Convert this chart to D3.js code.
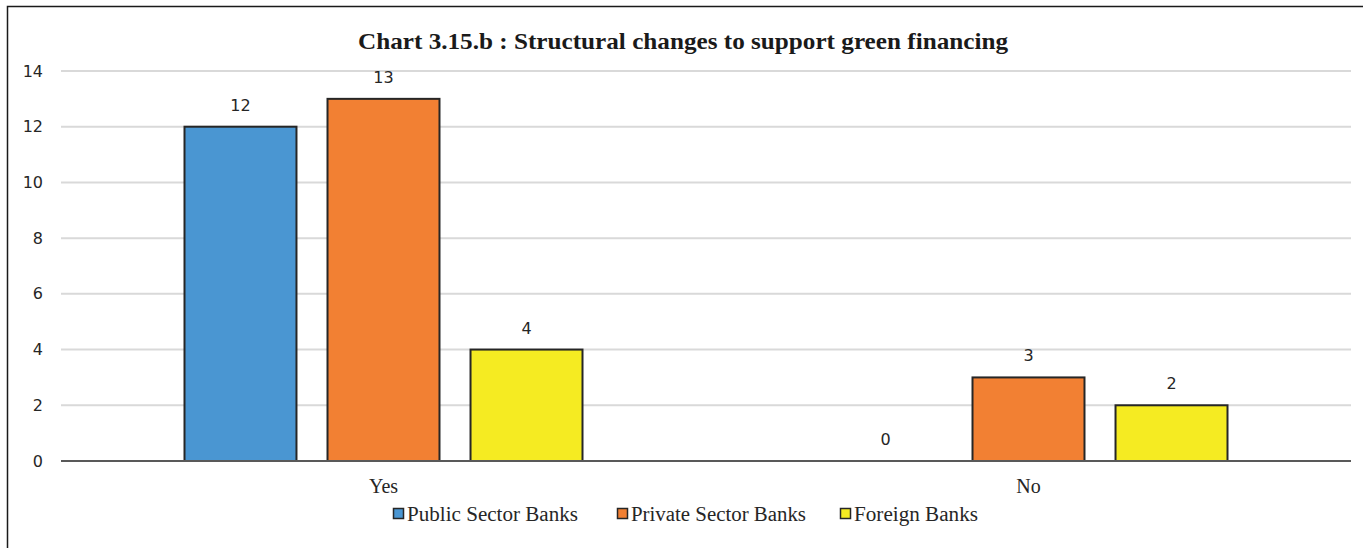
<!DOCTYPE html>
<html>
<head>
<meta charset="utf-8">
<script src="https://cdn.jsdelivr.net/npm/d3@7"></script>
<style>
  html, body { margin: 0; padding: 0; background: #fff; }
  svg { display: block; }
</style>
</head>
<body>
<svg id="chart" width="1363" height="548"></svg>
<script>
// Survey responses by bank group
const categories = ["Yes", "No"];
const seriesNames = ["Public Sector Banks", "Private Sector Banks", "Foreign Banks"];
const publicSector = [12, 0];
const privateSector = [13, 3];
const foreignBanks = [4, 2];
const yTicks = [0, 2, 4, 6, 8, 10, 12, 14];
const chartTitle = "Chart 3.15.b : Structural changes to support green financing";

const seriesValues = [publicSector, privateSector, foreignBanks];
const colors = ["#4A96D2", "#F28033", "#F5EB22"];

const svg = d3.select("#chart");
const W = 1363, H = 548;
const margin = { left: 61, right: 12, top: 71, bottom: 87 };
const plotW = W - margin.left - margin.right;
const plotH = H - margin.top - margin.bottom;

const serif = "'Liberation Serif', 'Times New Roman', serif";
const sans = "'DejaVu Sans', Verdana, sans-serif";

// Frame (left and top edges)
svg.append("path")
  .attr("d", `M7.5,${H} L7.5,6.5 L${W},6.5`)
  .attr("fill", "none")
  .attr("stroke", "#1a1a1a")
  .attr("stroke-width", 1.5);

const g = svg.append("g").attr("transform", `translate(${margin.left},${margin.top})`);

const x0 = d3.scaleBand().domain(categories).range([0, plotW]).paddingInner(0).paddingOuter(0);
const x1 = d3.scaleBand().domain(seriesNames).range([123.5, x0.bandwidth() - 123.5]).paddingInner(0.217).paddingOuter(0);
const y = d3.scaleLinear().domain([0, 14]).range([plotH, 0]);

// Gridlines
g.append("g")
  .selectAll("line")
  .data(yTicks.filter(d => d !== 0))
  .join("line")
  .attr("x1", 0).attr("x2", plotW)
  .attr("y1", d => y(d)).attr("y2", d => y(d))
  .attr("stroke", "#d9d9d9")
  .attr("stroke-width", 2);

// Y axis labels
const yAxis = d3.axisLeft(y).tickValues(yTicks).tickSize(0).tickPadding(18);
g.append("g").call(yAxis)
  .call(a => a.select(".domain").remove())
  .selectAll("text")
  .attr("font-family", sans)
  .attr("font-size", 16)
  .attr("fill", "#262626");

// Bars
const groups = g.selectAll(".grp")
  .data(categories)
  .join("g")
  .attr("class", "grp")
  .attr("transform", d => `translate(${x0(d)},0)`);

const barData = (c, ci) => seriesNames.map((s, si) => ({ s, si, v: seriesValues[si][ci] }));

groups.each(function (c, ci) {
  const grp = d3.select(this);
  const data = barData(c, ci);
  grp.selectAll("rect")
    .data(data.filter(d => d.v > 0))
    .join("rect")
    .attr("x", d => x1(d.s))
    .attr("y", d => y(d.v))
    .attr("width", x1.bandwidth())
    .attr("height", d => y(0) - y(d.v))
    .attr("fill", d => colors[d.si])
    .attr("stroke", "#262626")
    .attr("stroke-width", 2);
  grp.selectAll("text.val")
    .data(data)
    .join("text")
    .attr("class", "val")
    .attr("x", d => x1(d.s) + x1.bandwidth() / 2)
    .attr("y", d => y(d.v) - 16)
    .attr("text-anchor", "middle")
    .attr("font-family", sans)
    .attr("font-size", 16)
    .attr("fill", "#262626")
    .text(d => d.v);
});

// Zero baseline
g.append("line")
  .attr("x1", 0).attr("x2", plotW)
  .attr("y1", y(0)).attr("y2", y(0))
  .attr("stroke", "#595959")
  .attr("stroke-width", 2);

// Category labels
const xAxis = d3.axisBottom(x0).tickSize(0).tickPadding(18);
g.append("g").attr("transform", `translate(0,${plotH})`).call(xAxis)
  .call(a => a.select(".domain").remove())
  .selectAll("text")
  .attr("font-family", serif)
  .attr("font-size", 20)
  .attr("fill", "#262626");

// Title
svg.append("text")
  .attr("x", 683)
  .attr("y", 49)
  .attr("text-anchor", "middle")
  .attr("font-family", serif)
  .attr("font-weight", "bold")
  .attr("font-size", 24)
  .attr("textLength", 650)
  .attr("lengthAdjust", "spacingAndGlyphs")
  .attr("fill", "#1a1a1a")
  .text(chartTitle);

// Legend
const legendX = [393, 617, 840];
const legendTextW = [171, 175, 124];
const legend = svg.append("g").attr("transform", "translate(0,508)");
const items = legend.selectAll("g")
  .data(seriesNames)
  .join("g")
  .attr("transform", (d, i) => `translate(${legendX[i]},0)`);
items.append("rect")
  .attr("x", 0.5).attr("y", 0.5)
  .attr("width", 10).attr("height", 10)
  .attr("fill", (d, i) => colors[i])
  .attr("stroke", "#262626")
  .attr("stroke-width", 1.5);
items.append("text")
  .attr("x", 14)
  .attr("y", 13)
  .attr("font-family", serif)
  .attr("font-size", 20)
  .attr("textLength", (d, i) => legendTextW[i])
  .attr("lengthAdjust", "spacingAndGlyphs")
  .attr("fill", "#262626")
  .text(d => d);
</script>
</body>
</html>
